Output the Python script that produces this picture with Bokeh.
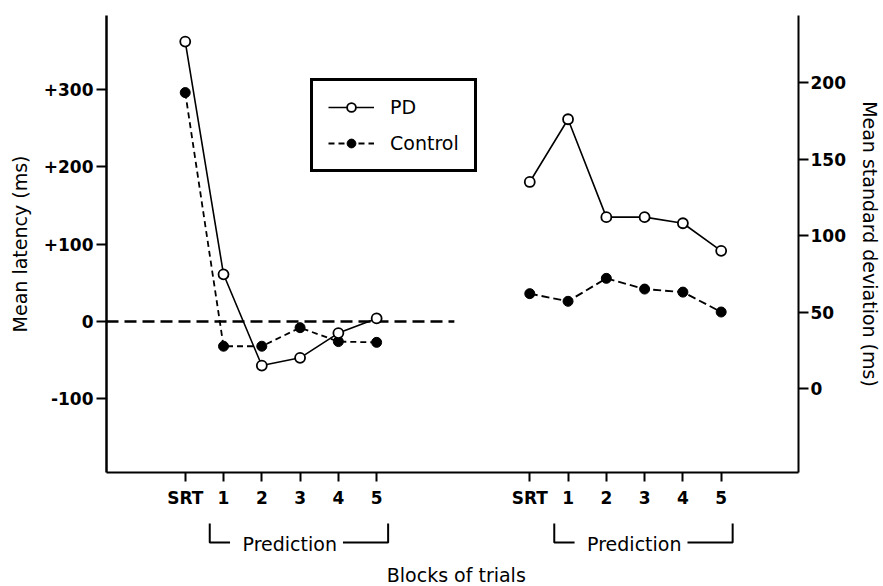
from bokeh.plotting import figure
from bokeh.models import Range1d, LinearAxis, FixedTicker, Legend, LegendItem, Label
from bokeh.layouts import column
from bokeh.embed import file_html
from bokeh.resources import INLINE
from bokeh.core.properties import value

# ---------------- data ----------------
blocks = ["SRT", "1", "2", "3", "4", "5"]
pd_latency = [362, 61, -57, -47, -15, 4]
control_latency = [296, -32, -32, -8, -26, -27]
pd_sd = [135, 176, 112, 112, 108, 90]
control_sd = [62, 57, 72, 65, 63, 50]
latency_ticks = [-100, 0, 100, 200, 300]
latency_tick_labels = ["-100", "0", "+100", "+200", "+300"]
sd_ticks = [0, 50, 100, 150, 200]
group_offsets = [0, 9]          # latency panel, SD panel
reference_latency = 0           # dashed zero line

x_lat = [group_offsets[0] + i for i in range(len(blocks))]
x_sd = [group_offsets[1] + i for i in range(len(blocks))]

FONT = "DejaVu Sans"
W = 883
X_RANGE = Range1d(-2.057, 16.02)
BORDER_L, BORDER_R = 106, 83

p = figure(width=W, height=512, x_range=X_RANGE, y_range=Range1d(-195.3, 395.7),
           output_backend="svg", toolbar_location=None, title=None,
           min_border_left=BORDER_L, min_border_right=BORDER_R,
           min_border_top=15, min_border_bottom=40)
p.extra_y_ranges = {"sd": Range1d(-54.9, 243.8)}
p.grid.visible = False
p.outline_line_color = None


def style_axis(ax, tick_out, standoff):
    ax.major_label_text_font = FONT
    ax.major_label_text_font_size = "17px"
    ax.major_label_text_font_style = "bold"
    ax.major_label_text_color = "black"
    ax.major_tick_out = tick_out
    ax.major_tick_in = 0
    ax.minor_tick_out = 0
    ax.minor_tick_in = 0
    ax.axis_line_width = 2
    ax.axis_line_color = "black"
    ax.major_tick_line_width = 2
    ax.major_tick_line_color = "black"
    ax.major_label_standoff = standoff
    ax.axis_label_text_font = FONT
    ax.axis_label_text_font_size = "19px"
    ax.axis_label_text_font_style = "normal"
    ax.axis_label_text_color = "black"


# left axis
ly = p.yaxis[0]
ly.ticker = FixedTicker(ticks=latency_ticks)
ly.major_label_overrides = dict(zip(latency_ticks, latency_tick_labels))
ly.axis_label = "Mean latency (ms)"
style_axis(ly, 10, 3)
ly.axis_line_width = 2.5
ly.axis_label_standoff = 10

# right axis
ry = LinearAxis(y_range_name="sd", ticker=FixedTicker(ticks=sd_ticks),
                axis_label="Mean standard deviation (ms)")
style_axis(ry, 10, 2)
ry.axis_label_standoff = 10
p.add_layout(ry, "right")

# bottom axis
xa = p.xaxis[0]
xa.ticker = FixedTicker(ticks=x_lat + x_sd)
overrides = {x: b for x, b in zip(x_lat, blocks)}
overrides.update({x: b for x, b in zip(x_sd, blocks)})
xa.major_label_overrides = overrides
style_axis(xa, 9, 6)

# zero reference line in latency panel
p.line([X_RANGE.start, group_offsets[0] + 7.03], [reference_latency, reference_latency],
       line_color="black", line_width=2.6, line_dash="12 6")

# latency series
r_c_line = p.line(x_lat, control_latency, line_color="black", line_width=1.8, line_dash="6 4")
r_c_pts = p.scatter(x_lat, control_latency, marker="circle", size=10,
                    fill_color="black", line_color="black")
r_pd_line = p.line(x_lat, pd_latency, line_color="black", line_width=1.6)
r_pd_pts = p.scatter(x_lat, pd_latency, marker="circle", size=10,
                     fill_color="white", line_color="black", line_width=1.8)

# SD series
p.line(x_sd, control_sd, line_color="black", line_width=1.9, line_dash="8 4", y_range_name="sd")
p.scatter(x_sd, control_sd, marker="circle", size=10, fill_color="black",
          line_color="black", y_range_name="sd")
p.line(x_sd, pd_sd, line_color="black", line_width=1.6, y_range_name="sd")
p.scatter(x_sd, pd_sd, marker="circle", size=10, fill_color="white",
          line_color="black", line_width=1.8, y_range_name="sd")

legend = Legend(items=[LegendItem(label="PD", renderers=[r_pd_line, r_pd_pts]),
                       LegendItem(label="Control", renderers=[r_c_line, r_c_pts])],
                location=(204, 300), border_line_color="black", border_line_width=3,
                border_line_alpha=1,
                background_fill_color="white", background_fill_alpha=1,
                label_text_font=FONT, label_text_font_size="19px",
                label_text_color="black",
                glyph_width=46, glyph_height=22, spacing=14, padding=15,
                label_standoff=16, margin=0)
p.add_layout(legend)

# ---------------- bracket strip below axis ----------------
p2 = figure(width=W, height=74, x_range=X_RANGE, y_range=Range1d(0, 1),
            x_axis_type=None, y_axis_type=None, output_backend="svg",
            toolbar_location=None, title=None,
            min_border_left=BORDER_L, min_border_right=BORDER_R,
            min_border_top=0, min_border_bottom=0)
p2.grid.visible = False
p2.outline_line_color = None

top, bot = 0.85, 0.595
xs, ys = [], []
for g in group_offsets:
    xs.append([g + 0.64, g + 0.64, g + 1.17])
    ys.append([top, bot, bot])
    xs.append([g + 4.12, g + 5.3, g + 5.3])
    ys.append([bot, bot, top])
p2.multi_line(xs, ys, line_color="black", line_width=2)
p2.text(x=[g + 2.73 for g in group_offsets], y=[bot - 0.02] * len(group_offsets),
        text=["Prediction"] * len(group_offsets), text_font=value(FONT),
        text_font_size="19px", text_align="center", text_baseline="alphabetic",
        text_color="black")
p2.add_layout(Label(x=7.08, y=0.16, text="Blocks of trials", text_font=FONT,
                    text_font_size="19px", text_align="center",
                    text_baseline="alphabetic", text_color="black"))

layout = column(p, p2, spacing=0)
open("out.html", "w").write(file_html(layout, INLINE))
